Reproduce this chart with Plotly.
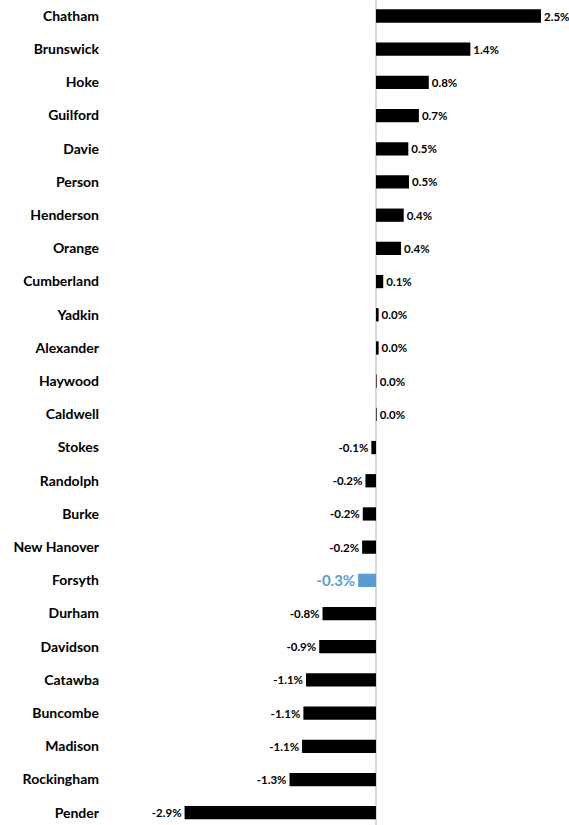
import plotly.graph_objects as go

counties = ["Chatham", "Brunswick", "Hoke", "Guilford", "Davie", "Person", "Henderson",
            "Orange", "Cumberland", "Yadkin", "Alexander", "Haywood", "Caldwell", "Stokes",
            "Randolph", "Burke", "New Hanover", "Forsyth", "Durham", "Davidson", "Catawba",
            "Buncombe", "Madison", "Rockingham", "Pender"]
change_pct = [2.50, 1.43, 0.80, 0.65, 0.49, 0.50, 0.42, 0.38, 0.11, 0.04, 0.04, 0.01, 0.01,
              -0.07, -0.16, -0.20, -0.21, -0.27, -0.81, -0.86, -1.06, -1.10, -1.12, -1.31, -2.90]
highlight = "Forsyth"

BLACK = "#000000"
BLUE = "#5B9BD5"
colors = [BLUE if c == highlight else BLACK for c in counties]
tsizes = [15 if c == highlight else 11.5 for c in counties]

fig = go.Figure(go.Bar(
    x=change_pct, y=counties, orientation="h",
    marker=dict(color=colors, line=dict(width=0)),
    width=0.4,
    texttemplate="%{x:.1f}%",
    textposition="outside",
    textfont=dict(family="Lato", color=colors, size=tsizes, weight="bold"),
    constraintext="none",
    cliponaxis=False,
    hoverinfo="skip",
))

fig.update_layout(
    width=569, height=825,
    margin=dict(l=104, r=4, t=0, b=0, autoexpand=False),
    plot_bgcolor="white", paper_bgcolor="white",
    showlegend=False,
    xaxis=dict(range=[-4.121, 2.864], showticklabels=False, showgrid=False,
               zeroline=True, zerolinecolor="#d9d9d9", zerolinewidth=1.5, fixedrange=True),
    yaxis=dict(type="category", range=[24.37, -0.482], showgrid=False, zeroline=False,
               ticks="", ticklabelstandoff=4, automargin=False, fixedrange=True,
               tickfont=dict(family="Lato", size=14, color="#000000", weight="bold")),
    font=dict(family="Lato"),
)

fig.write_html("out.html", config={"displayModeBar": False, "staticPlot": True},
               post_script="document.body.style.margin='0';document.body.style.overflow='hidden';")
